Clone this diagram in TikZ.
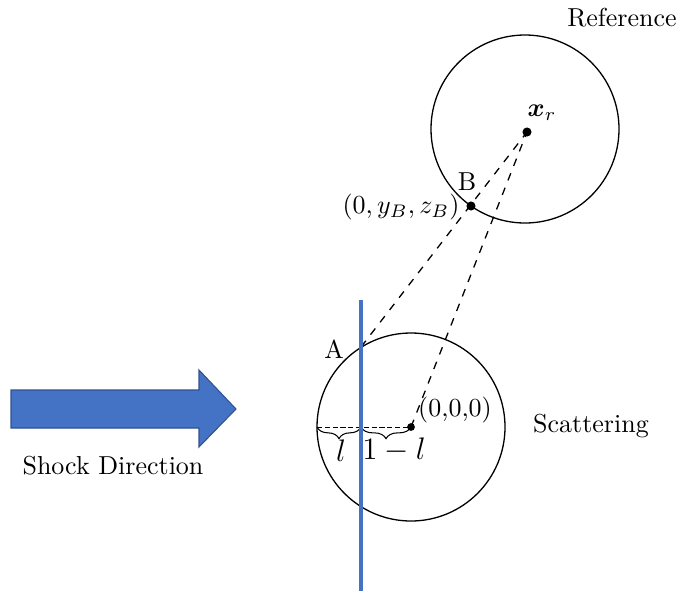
\documentclass[tikz,border=0pt]{standalone}
\usepackage{amsmath}
\usepackage{amssymb}
\usepackage{bm}
\usepackage{tikz}
\usetikzlibrary{decorations.pathreplacing}
\definecolor{shockblue}{HTML}{4472C4}
\definecolor{shockedge}{HTML}{2F528F}
\tikzstyle{dot} = [circle, minimum width=3.5pt, fill, inner sep=0pt]
\tikzstyle{ball} = [circle, draw, line width=0.5pt, minimum size=188*0.385pt, inner sep=0pt]
\tikzstyle{dline} = [dashed, line width=0.5pt]
\tikzstyle{curly} = [decorate, decoration={brace, mirror, amplitude=4.5pt}, line width=0.4pt]

\begin{document}
\begin{tikzpicture}[x=0.385pt, y=-0.385pt]
	\useasboundingbox (0,0) rectangle (678,593);
	% the two spheres
	\node[ball] (ref) at (525,129) {};
	\node[ball] (scat) at (411,427) {};
	\node at (622,18) {Reference};
	\node at (591,426) {Scattering};
	% points
	\node[dot] (xr) at (527,132) {};
	\node[dot, minimum width=3pt] (o) at (411,427) {};
	\node[dot] (b) at (471,206) {};
	\coordinate (a) at (361,347);
	\coordinate (left) at (317,427);
	\coordinate (cut) at (361,427);
	\node at (542,113) {$\bm{x}_r$};
	\node at (455,410) {(0,0,0)};
	\node at (467,182) {B};
	\node at (401,207) {$(0,y_B,z_B)$};
	\node at (334,349) {A};
	% dashed lines
	\draw[dline] (a) -- (xr.center);
	\draw[dline] (o.center) -- (xr.center);
	\draw[dashed, line width=0.35pt, dash pattern=on 2pt off 1pt] (left) -- (o.center);
	% braces
	\draw[curly] (left) -- (cut);
	\draw[curly] (cut) -- (o.center);
	\node (ll) at (341,451) {\large $l$};
	\node (rl) at (394,450) {\large $1-l$};
	% shock front
	\coordinate (top) at (361,300);
	\coordinate (bot) at (361,591);
	\draw[shockblue, line width=1.2pt] (top) -- (bot);
	% shock arrow
	\filldraw[fill=shockblue, draw=shockedge, line width=0.4pt]
		(11,390) -- (199,390) -- (199,370) -- (236,409) -- (199,447) -- (199,428) -- (11,428) -- cycle;
	\node at (113,466) {Shock Direction};
\end{tikzpicture}
\end{document}
